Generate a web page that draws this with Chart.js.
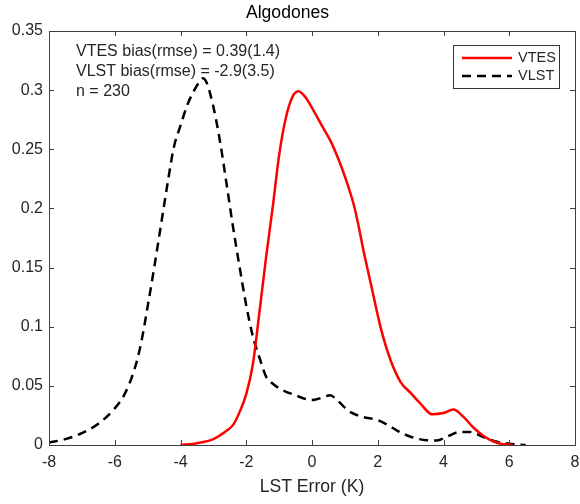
<!DOCTYPE html>
<html>
<head>
<meta charset="utf-8">
<script src="https://cdn.jsdelivr.net/npm/chart.js@4"></script>
<style>
  html, body { margin: 0; padding: 0; background: #fff; }
  #wrap { width: 580px; height: 504px; }
</style>
</head>
<body>
<div id="wrap"><canvas id="myChart" width="580" height="504"></canvas></div>
<script>
// density curves
const vtesX = [-4, -3.5, -3, -2.6, -2.4, -2.2, -2.0, -1.8, -1.6, -1.4, -1.2, -1.0, -0.8, -0.6, -0.42, -0.2, 0, 0.3, 0.6, 1.0, 1.3, 1.6, 1.8, 2.1, 2.4, 2.7, 3.0, 3.3, 3.65, 4.0, 4.3, 4.6, 4.9, 5.2, 5.6, 6.1];
const vtesY = [0, 0.0015, 0.005, 0.012, 0.017, 0.028, 0.043, 0.068, 0.112, 0.158, 0.200, 0.245, 0.276, 0.294, 0.299, 0.294, 0.285, 0.270, 0.255, 0.227, 0.200, 0.160, 0.135, 0.098, 0.071, 0.053, 0.044, 0.035, 0.026, 0.027, 0.030, 0.024, 0.015, 0.008, 0.002, 0];

const vlstX = [-8, -7.5, -7, -6.5, -6, -5.7, -5.4, -5.2, -5.0, -4.8, -4.6, -4.4, -4.2, -4.0, -3.8, -3.6, -3.45, -3.32, -3.2, -3.0, -2.8, -2.6, -2.4, -2.2, -2.0, -1.8, -1.6, -1.4, -1.2, -1.0, -0.5, 0, 0.3, 0.55, 0.8, 1.1, 1.5, 2.0, 2.3, 2.6, 3.0, 3.5, 3.8, 4.1, 4.5, 4.8, 5.2, 5.6, 6.0, 6.5];
const vlstY = [0.002, 0.005, 0.010, 0.018, 0.031, 0.043, 0.064, 0.086, 0.117, 0.150, 0.185, 0.220, 0.252, 0.270, 0.287, 0.299, 0.306, 0.310, 0.306, 0.286, 0.257, 0.221, 0.184, 0.150, 0.118, 0.092, 0.074, 0.058, 0.052, 0.048, 0.042, 0.038, 0.040, 0.042, 0.037, 0.029, 0.024, 0.021, 0.017, 0.012, 0.007, 0.004, 0.0038, 0.007, 0.011, 0.011, 0.007, 0.003, 0.001, 0];

const xTicks = [-8, -6, -4, -2, 0, 2, 4, 6, 8];
const yTicks = [0, 0.05, 0.1, 0.15, 0.2, 0.25, 0.3, 0.35];
const statsText = ['VTES bias(rmse) = 0.39(1.4)', 'VLST bias(rmse) = -2.9(3.5)', 'n = 230'];

const axisColor = '#404040';
const textColor = '#262626';
const font = 'Arial, "Liberation Sans", sans-serif';

const toPoints = (xs, ys) => xs.map((x, i) => ({ x: x, y: ys[i] }));

// MATLAB-like box: border on all sides, ticks pointing inwards, stats text and legend
const boxPlugin = {
  id: 'box',
  afterDraw(chart) {
    const ctx = chart.ctx;
    const a = chart.chartArea;
    const xs = chart.scales.x, ys = chart.scales.y;
    ctx.save();
    ctx.strokeStyle = axisColor;
    ctx.lineWidth = 1;
    ctx.beginPath();
    xTicks.forEach(v => {
      const px = Math.round(xs.getPixelForValue(v)) + 0.5;
      ctx.moveTo(px, a.bottom); ctx.lineTo(px, a.bottom - 5);
      ctx.moveTo(px, a.top); ctx.lineTo(px, a.top + 5);
    });
    yTicks.forEach(v => {
      const py = Math.round(ys.getPixelForValue(v)) + 0.5;
      ctx.moveTo(a.left, py); ctx.lineTo(a.left + 5, py);
      ctx.moveTo(a.right, py); ctx.lineTo(a.right - 5, py);
    });
    ctx.stroke();
    ctx.strokeRect(Math.round(a.left) + 0.5, Math.round(a.top) + 0.5, Math.round(a.right - a.left), Math.round(a.bottom - a.top));

    // stats text
    ctx.fillStyle = textColor;
    ctx.font = '16px ' + font;
    ctx.textBaseline = 'middle';
    ctx.textAlign = 'left';
    statsText.forEach((t, i) => ctx.fillText(t, a.left + 27, a.top + 21 + i * 20));

    // legend
    ctx.font = '14.5px ' + font;
    const lx = a.left + 404, ly = a.top + 14, lw = 106, lh = 43;
    ctx.fillStyle = '#fff';
    ctx.fillRect(lx, ly, lw, lh);
    ctx.strokeStyle = '#333';
    ctx.lineWidth = 1;
    ctx.strokeRect(lx + 0.5, ly + 0.5, lw, lh);
    chart.data.datasets.forEach((ds, i) => {
      const y = ly + 13 + i * 18;
      ctx.strokeStyle = ds.borderColor;
      ctx.lineWidth = ds.borderWidth;
      ctx.setLineDash(ds.borderDash || []);
      ctx.beginPath();
      ctx.moveTo(lx + 9, y); ctx.lineTo(lx + 59, y);
      ctx.stroke();
      ctx.setLineDash([]);
      ctx.fillStyle = textColor;
      ctx.fillText(ds.label, lx + 65, y);
    });
    ctx.restore();
  }
};

const data = {
  datasets: [
    {
      label: 'VTES',
      data: toPoints(vtesX, vtesY),
      borderColor: '#ff0000',
      borderWidth: 2.5,
      pointRadius: 0,
      cubicInterpolationMode: 'monotone',
      fill: false
    },
    {
      label: 'VLST',
      data: toPoints(vlstX, vlstY),
      borderColor: '#000000',
      borderWidth: 2.5,
      borderDash: [9, 6],
      pointRadius: 0,
      cubicInterpolationMode: 'monotone',
      fill: false
    }
  ]
};

const config = {
  type: 'line',
  data: data,
  options: {
    responsive: false,
    animation: false,
    layout: { padding: { left: 0, right: 5, top: 0, bottom: 0 } },
    scales: {
      x: {
        type: 'linear',
        min: -8,
        max: 8,
        afterBuildTicks: s => { s.ticks = xTicks.map(v => ({ value: v })); },
        afterFit: s => { s.height = 59; s.paddingLeft = 0; s.paddingRight = 0; },
        grid: { display: false, drawTicks: false },
        border: { display: false },
        ticks: { color: textColor, font: { size: 16, family: font }, padding: 8, maxRotation: 0 },
        title: { display: true, text: 'LST Error (K)', color: textColor, font: { size: 17.6, family: font }, padding: { top: 2, bottom: 6 } }
      },
      y: {
        min: 0,
        max: 0.35,
        afterBuildTicks: s => { s.ticks = yTicks.map(v => ({ value: v })); },
        afterFit: s => { s.width = 49; s.paddingTop = 0; s.paddingBottom = 0; },
        grid: { display: false, drawTicks: false },
        border: { display: false },
        ticks: { color: textColor, font: { size: 16, family: font }, padding: 6, callback: v => String(+v.toFixed(2)) }
      }
    },
    plugins: {
      legend: { display: false },
      tooltip: { enabled: false },
      title: {
        display: true,
        text: 'Algodones',
        color: '#000',
        font: { size: 17.6, weight: 'normal', family: font },
        padding: { top: 2.5, bottom: 7.4 }
      }
    }
  },
  plugins: [boxPlugin]
};

new Chart(document.getElementById('myChart'), config);
</script>
</body>
</html>
